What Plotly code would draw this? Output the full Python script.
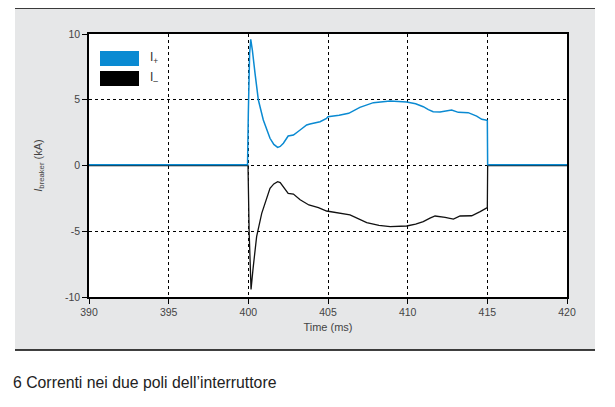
import plotly.graph_objects as go

# ---- data ----
t_plus = [390, 399.95, 400.0, 400.08, 400.15, 400.25, 400.42, 400.63, 400.94, 401.36, 401.6, 401.84,
          402.0, 402.2, 402.5, 402.83, 403.25, 403.66, 403.87, 404.29, 404.5, 404.91, 405.0, 405.7,
          406.3, 407.0, 407.85, 408.9, 409.94, 410.5, 410.98, 411.3, 411.6, 412.03, 412.4, 412.76,
          413.18, 413.8, 414.33, 414.65, 414.9, 415.0, 415.02, 420]
i_plus = [0.05, 0.05, 4.0, 8.5, 9.6, 8.8, 7.0, 4.98, 3.46, 2.07, 1.6, 1.38,
          1.45, 1.69, 2.24, 2.32, 2.7, 3.08, 3.16, 3.28, 3.33, 3.59, 3.71, 3.82,
          3.97, 4.42, 4.78, 4.9, 4.83, 4.7, 4.47, 4.25, 4.09, 4.07, 4.15, 4.22,
          4.04, 4.02, 3.76, 3.51, 3.46, 3.42, 0.05, 0.05]

t_minus = [390, 399.98, 400.05, 400.17, 400.3, 400.52, 400.84, 401.1, 401.36, 401.6, 401.84,
           402.0, 402.2, 402.5, 402.83, 403.25, 403.8, 404.4, 404.91, 405.3, 406.38, 407.43,
           408.2, 408.9, 409.94, 410.5, 410.98, 411.4, 411.72, 412.35, 412.87, 413.29, 414.02,
           414.55, 414.86, 415.0, 415.02, 420]
i_minus = [0, 0, -5.0, -9.42, -7.8, -5.41, -3.64, -2.6, -1.74, -1.4, -1.23,
           -1.3, -1.61, -2.12, -2.17, -2.6, -3.0, -3.2, -3.46, -3.55, -3.76, -4.35,
           -4.55, -4.65, -4.6, -4.45, -4.27, -4.0, -3.84, -3.94, -4.07, -3.84, -3.82,
           -3.51, -3.26, -3.2, 0, 0]

x_ticks = [390, 395, 400, 405, 410, 415, 420]
y_ticks = [-10, -5, 0, 5, 10]
y_ticktext = ["-10", "-5", "0", "5", "10"]
legend_labels = ["I<sub>+</sub>", "I<sub>–</sub>"]
caption = "6 Correnti nei due poli dell’interruttore"

BLUE = "#0a8ad2"
FONT = "Liberation Sans, Arial, sans-serif"

OFF = 8  # page body margin
W, H = 615 - OFF, 407 - OFF
L, T = 89 - OFF, 34 - OFF
R, B = W - (567 - OFF), H - (297 - OFF)
pw, ph = W - L - R, H - T - B

def px(x):
    return (x - OFF - L) / pw

def py(y):
    return (H - B - (y - OFF)) / ph

fig = go.Figure()
fig.add_trace(go.Scatter(x=t_minus, y=i_minus, mode="lines",
                         line=dict(color="#111111", width=1.3), name=legend_labels[1],
                         showlegend=False))
fig.add_trace(go.Scatter(x=t_plus, y=i_plus, mode="lines",
                         line=dict(color=BLUE, width=1.5), name=legend_labels[0],
                         showlegend=False))

shapes = [
    dict(type="rect", xref="paper", yref="paper", x0=px(15), x1=px(595), y0=py(350), y1=py(8),
         fillcolor="#e6e7e8", line=dict(width=0), layer="below"),
    dict(type="rect", xref="paper", yref="paper", x0=0, x1=1, y0=0, y1=1,
         fillcolor="white", line=dict(width=0), layer="below"),
    dict(type="line", xref="paper", yref="paper", x0=px(15), x1=px(595), y0=py(8), y1=py(8),
         line=dict(color="black", width=1.3)),
    dict(type="line", xref="paper", yref="paper", x0=px(15), x1=px(595), y0=py(350), y1=py(350),
         line=dict(color="black", width=1.3)),
    # legend swatches
    dict(type="rect", xref="paper", yref="paper", x0=px(100), x1=px(139), y0=py(66), y1=py(51),
         fillcolor=BLUE, line=dict(width=0)),
    dict(type="rect", xref="paper", yref="paper", x0=px(100), x1=px(139), y0=py(86), y1=py(71),
         fillcolor="black", line=dict(width=0)),
]

annotations = [
    dict(text=legend_labels[0], xref="paper", yref="paper", x=px(148), y=py(58),
         xanchor="left", yanchor="middle", showarrow=False, font=dict(size=12, color="#333", family=FONT)),
    dict(text=legend_labels[1], xref="paper", yref="paper", x=px(148), y=py(78),
         xanchor="left", yanchor="middle", showarrow=False, font=dict(size=12, color="#333", family=FONT)),
    dict(text=caption, xref="paper", yref="paper", x=px(11), y=py(382),
         xanchor="left", yanchor="middle", showarrow=False, font=dict(size=15.8, color="#222", family=FONT)),
]

axis_common = dict(showline=True, linecolor="black", linewidth=1.5, mirror=True,
                   ticks="outside", ticklen=5, tickcolor="black", tickwidth=1,
                   showgrid=True, gridcolor="black", gridwidth=1, griddash="dot",
                   zeroline=False, tickfont=dict(size=10.5, color="#444", family=FONT))

fig.update_xaxes(range=[390, 420], tickvals=x_ticks, **axis_common,
                 title=dict(text="Time (ms)", font=dict(size=11, color="#444", family=FONT), standoff=6))
fig.update_yaxes(range=[-10, 10], tickvals=y_ticks, ticktext=y_ticktext, **axis_common,
                 title=dict(text="<i>I</i><sub>breaker</sub> (kA)", font=dict(size=11, color="#444", family=FONT),
                            standoff=20))

fig.update_layout(width=W, height=H, margin=dict(l=L, r=R, t=T, b=B),
                  paper_bgcolor="white", plot_bgcolor="white",
                  shapes=shapes, annotations=annotations, showlegend=False)

fig.write_html("out.html")
